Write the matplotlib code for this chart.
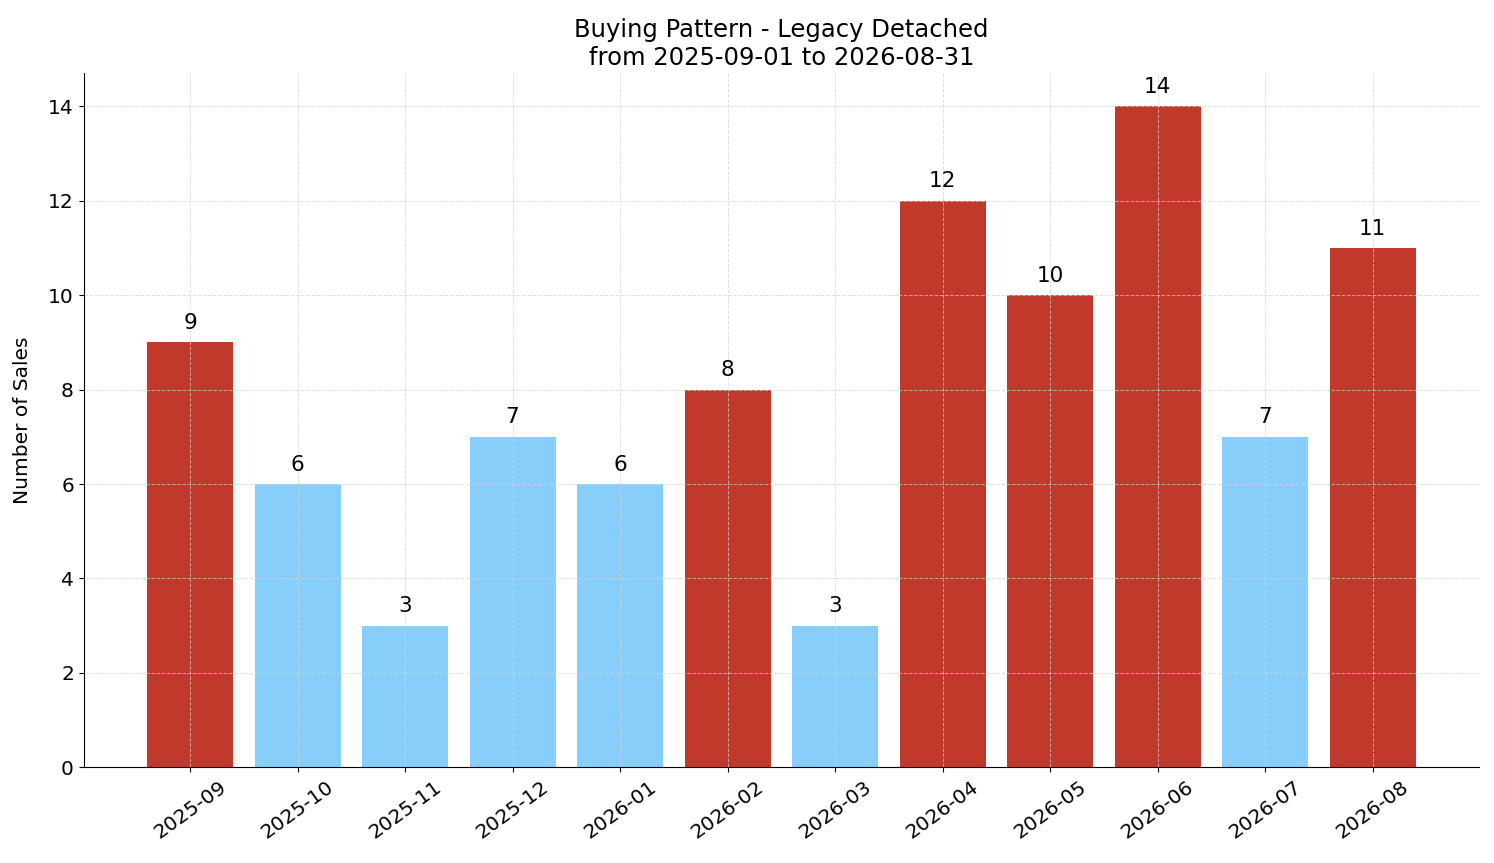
import numpy as np
import matplotlib
matplotlib.use('Agg')
import matplotlib.pyplot as plt

months = ['2025-09', '2025-10', '2025-11', '2025-12', '2026-01', '2026-02',
          '2026-03', '2026-04', '2026-05', '2026-06', '2026-07', '2026-08']
sales = [9, 6, 3, 7, 6, 8, 3, 12, 10, 14, 7, 11]

avg = np.mean(sales)
colors = ['#c0392b' if s >= avg else '#87cefa' for s in sales]

fig, ax = plt.subplots(figsize=(14.94, 8.63), dpi=100)
x = np.arange(len(months))
bars = ax.bar(x, sales, color=colors, width=0.8)

for b, s in zip(bars, sales):
    ax.text(b.get_x() + b.get_width() / 2, s + 0.2, str(s),
            ha='center', va='bottom', fontsize=15.5)

ax.set_xticks(x)
ax.set_xticklabels(months, rotation=36, fontsize=14.5)
ax.tick_params(axis='y', labelsize=14.5)
ax.set_ylabel('Number of Sales', fontsize=14.5, labelpad=12)
ax.set_title('Buying Pattern - Legacy Detached\nfrom 2025-09-01 to 2026-08-31', fontsize=17.5)
ax.set_ylim(0, 14.7)
ax.grid(True, linestyle='--', color='lightgray', alpha=0.7, linewidth=0.7)
ax.spines['top'].set_visible(False)
ax.spines['right'].set_visible(False)

plt.subplots_adjust(left=0.056, right=0.99, top=0.915, bottom=0.111)
plt.savefig('out.png', dpi=100)
